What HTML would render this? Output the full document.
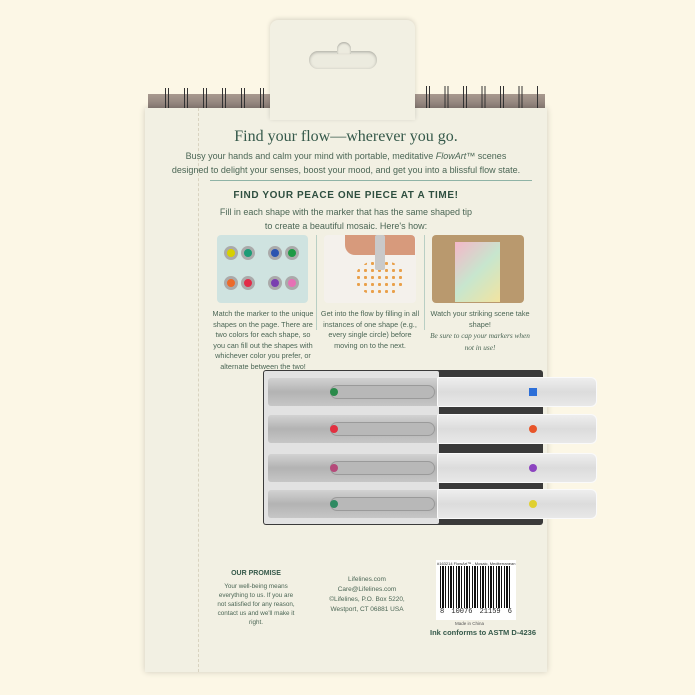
<!DOCTYPE html>
<html><head><style>
*{margin:0;padding:0;box-sizing:border-box}
body{width:695px;height:695px;background:#fcf7e6;position:relative;overflow:hidden;font-family:"Liberation Sans",sans-serif;color:#3d5a4a}
.a{position:absolute}
.card{left:145px;top:108px;width:402px;height:564px;background:#f2f0e3;box-shadow:0 0 6px rgba(0,0,0,.18)}
.tab{left:270px;top:20px;width:145px;height:100px;background:#f2f0e3;border-radius:8px 8px 0 0;box-shadow:0 -1px 5px rgba(0,0,0,.15)}
.spiral{top:94px;height:14px;background:linear-gradient(#a8998f,#8a7d76);}
.c{text-align:center;width:100%}
.t{font-size:10px;line-height:13px;color:#4b6655}
.row{left:268px;width:172px;height:28px;background:linear-gradient(#d2d2d2,#b3b3b3 50%,#c6c6c6);border-radius:3px}
.cap{left:437px;width:160px;height:30px;background:linear-gradient(#eeeeee,#dcdcdc 50%,#e8e8e8);border-radius:2px 6px 6px 2px;border:1px solid #fafafa}
.dot{width:8px;height:8px;border-radius:50%}
</style></head><body>
<div class="a spiral" style="left:148px;width:122px"></div>
<div class="a spiral" style="left:415px;width:130px"></div>
<div class="a" style="left:155px;top:88px;width:112px;height:20px;background:repeating-linear-gradient(90deg,transparent 0 10px,#333 10px 11px,transparent 11px 13px,#333 13px 14px,transparent 14px 19px)"></div>
<div class="a" style="left:418px;top:86px;width:120px;height:22px;background:repeating-linear-gradient(90deg,transparent 0 8px,#333 8px 9px,transparent 9px 11px,#333 11px 12px,transparent 12px 18.5px)"></div>
<div class="a card"></div>
<div class="a tab"></div>
<div class="a" style="left:309px;top:51px;width:68px;height:18px;border-radius:9px;background:#ecebdf;box-shadow:inset 0 1px 3px rgba(0,0,0,.3)"></div>
<div class="a" style="left:337px;top:42px;width:14px;height:12px;border-radius:7px 7px 0 0;background:#ecebdf;box-shadow:inset 0 1px 2px rgba(0,0,0,.3)"></div>
<div class="a" style="left:198px;top:108px;height:564px;border-left:1px dashed #d9d3c0"></div>

<div class="a c" style="left:145px;top:128px;width:402px;font-family:'Liberation Serif',serif;font-size:16px;color:#35594a">Find your flow—wherever you go.</div>
<div class="a c t" style="left:145px;top:149px;width:402px;font-size:9px;line-height:14px">Busy your hands and calm your mind with portable, meditative <i>FlowArt™</i> scenes<br>designed to delight your senses, boost your mood, and get you into a blissful flow state.</div>
<div class="a" style="left:210px;top:180px;width:322px;border-top:1px solid #8fb3a6"></div>
<div class="a c" style="left:145px;top:190px;width:402px;font-size:10px;font-weight:bold;letter-spacing:.6px;color:#2f4f40">FIND YOUR PEACE ONE PIECE AT A TIME!</div>
<div class="a c t" style="left:145px;top:205px;width:402px;font-size:9px;line-height:14px">Fill in each shape with the marker that has the same shaped tip<br>to create a beautiful mosaic. Here's how:</div>

<div class="a" style="left:217px;top:235px;width:91px;height:68px;background:#cfe3e0;border-radius:4px"></div>
<div class="a dot" style="left:224px;top:246px;width:14px;height:14px;background:#d7d000;border:3px solid #aaa"></div>
<div class="a dot" style="left:241px;top:246px;width:14px;height:14px;background:#1c9b76;border:3px solid #aaa"></div>
<div class="a dot" style="left:268px;top:246px;width:14px;height:14px;background:#2b54b0;border:3px solid #aaa"></div>
<div class="a dot" style="left:285px;top:246px;width:14px;height:14px;background:#1e9a44;border:3px solid #aaa"></div>
<div class="a dot" style="left:224px;top:276px;width:14px;height:14px;background:#ec6a2a;border:3px solid #aaa"></div>
<div class="a dot" style="left:241px;top:276px;width:14px;height:14px;background:#e22b48;border:3px solid #aaa"></div>
<div class="a dot" style="left:268px;top:276px;width:14px;height:14px;background:#7a3fb0;border:3px solid #aaa"></div>
<div class="a dot" style="left:285px;top:276px;width:14px;height:14px;background:#e770b5;border:3px solid #aaa"></div>
<div class="a" style="left:316px;top:235px;border-left:1px solid #b9cfc4;height:95px"></div>
<div class="a" style="left:324px;top:235px;width:92px;height:68px;background:#f4f1ec;border-radius:4px"></div>
<div class="a" style="left:355px;top:260px;width:50px;height:36px;border-radius:50%;background:radial-gradient(#e9a04a 30%,transparent 32%) 0 0/7px 7px"></div>
<div class="a" style="left:345px;top:235px;width:70px;height:20px;background:#d79a7c;border-radius:0 4px 0 10px"></div>
<div class="a" style="left:375px;top:235px;width:10px;height:35px;background:#c9c9c9;border-radius:2px"></div>
<div class="a" style="left:424px;top:235px;border-left:1px solid #b9cfc4;height:95px"></div>
<div class="a" style="left:432px;top:235px;width:92px;height:68px;background:#b9996e;border-radius:4px"></div>
<div class="a" style="left:455px;top:242px;width:45px;height:60px;background:linear-gradient(135deg,#f4b7c9,#c7e6ce 50%,#f2e4a0)"></div>

<div class="a c t" style="left:212px;top:309px;width:102px;font-size:7.3px;line-height:10.5px">Match the marker to the unique shapes on the page. There are two colors for each shape, so you can fill out the shapes with whichever color you prefer, or alternate between the two!</div>
<div class="a c t" style="left:320px;top:309px;width:100px;font-size:7.3px;line-height:10.5px">Get into the flow by filling in all instances of one shape (e.g., every single circle) before moving on to the next.</div>
<div class="a c t" style="left:428px;top:309px;width:104px;font-size:7.3px;line-height:10.5px">Watch your striking scene take shape!<br><i style="font-family:'Liberation Serif',serif;line-height:12px">Be sure to cap your markers when not in use!</i></div>

<div class="a" style="left:263px;top:370px;width:280px;height:155px;background:#3a3a3a;border-radius:3px"></div>
<div class="a" style="left:264px;top:371px;width:175px;height:153px;background:#e2e2e2;border-radius:2px"></div>
<div class="a row" style="top:378px"></div><div class="a cap" style="top:377px"></div>
<div class="a row" style="top:415px"></div><div class="a cap" style="top:414px"></div>
<div class="a row" style="top:454px"></div><div class="a cap" style="top:453px"></div>
<div class="a row" style="top:490px"></div><div class="a cap" style="top:489px"></div>
<div class="a" style="left:330px;top:385px;width:105px;height:14px;border-radius:7px;background:#b8b8b8;border:1px solid #9a9a9a"></div>
<div class="a" style="left:330px;top:422px;width:105px;height:14px;border-radius:7px;background:#b8b8b8;border:1px solid #9a9a9a"></div>
<div class="a" style="left:330px;top:461px;width:105px;height:14px;border-radius:7px;background:#b8b8b8;border:1px solid #9a9a9a"></div>
<div class="a" style="left:330px;top:497px;width:105px;height:14px;border-radius:7px;background:#b8b8b8;border:1px solid #9a9a9a"></div>
<div class="a dot" style="left:330px;top:388px;background:#2a8a4a"></div>
<div class="a" style="left:529px;top:388px;width:8px;height:8px;background:#2d6fd8"></div>
<div class="a dot" style="left:330px;top:425px;background:#e23040"></div>
<div class="a dot" style="left:529px;top:425px;background:#e8552a"></div>
<div class="a dot" style="left:330px;top:464px;background:#b54a7a"></div>
<div class="a dot" style="left:529px;top:464px;background:#8c44c0"></div>
<div class="a dot" style="left:330px;top:500px;background:#2f8a62"></div>
<div class="a dot" style="left:529px;top:500px;background:#e0d030"></div>

<div class="a c" style="left:216px;top:570px;width:80px;font-size:7px;font-weight:bold;color:#35594a">OUR PROMISE</div>
<div class="a c t" style="left:214px;top:582px;width:84px;font-size:6.3px;line-height:9px">Your well-being means everything to us. If you are not satisfied for any reason, contact us and we'll make it right.</div>
<div class="a c t" style="left:322px;top:575px;width:90px;font-size:6.5px;line-height:10px">Lifelines.com<br>Care@Lifelines.com<br>©Lifelines, P.O. Box 5220,<br>Westport, CT 06881 USA</div>
<div class="a" style="left:436px;top:560px;width:80px;height:60px;background:#fff"></div>
<div class="a" style="left:440px;top:566px;width:72px;height:42px;background:repeating-linear-gradient(90deg,#111 0 1px,#fff 1px 2px,#111 2px 4px,#fff 4px 5px,#111 5px 6px,#fff 6px 8px)"></div>
<div class="a" style="left:437px;top:561px;font-size:4px;color:#333">#163214 FlowArt™ - Mosaic, Mediterranean</div>
<div class="a" style="left:440px;top:608px;width:72px;font-size:7px;color:#222;font-family:'Liberation Mono',monospace;background:#fff;word-spacing:3px">8 10076 21159 6</div>
<div class="a" style="left:455px;top:621px;font-size:4.5px;color:#555">Made in China</div>
<div class="a" style="left:430px;top:628px;font-size:7.5px;font-weight:bold;color:#35594a">Ink conforms to ASTM D-4236</div>
</body></html>
